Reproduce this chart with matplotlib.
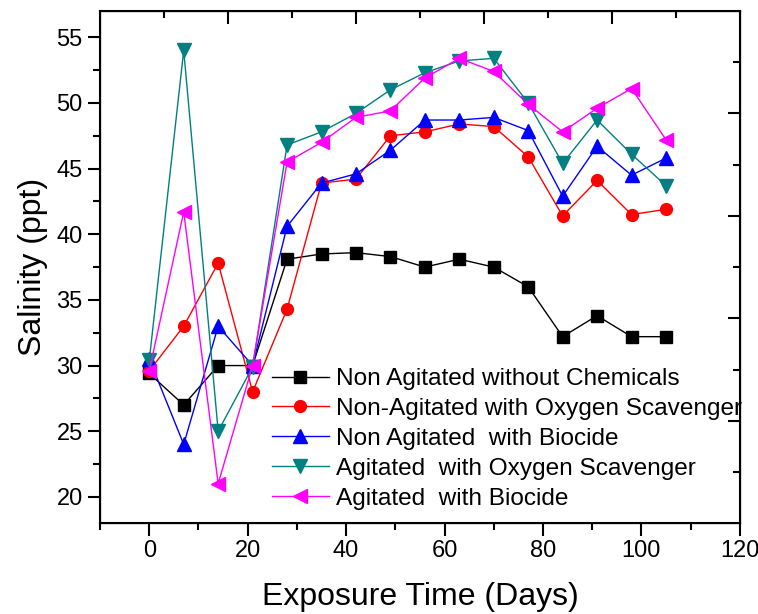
import matplotlib.pyplot as plt
from matplotlib.ticker import MultipleLocator, FixedLocator

plt.rcParams['font.family'] = ['Liberation Sans', 'DejaVu Sans']

days = [0, 7, 14, 21, 28, 35, 42, 49, 56, 63, 70, 77, 84, 91, 98, 105]

non_agit_none = [29.4, 27.0, 30.0, 30.0, 38.1, 38.5, 38.6, 38.3, 37.5, 38.1,
                 37.5, 36.0, 32.2, 33.8, 32.2, 32.2]
non_agit_oxy = [29.6, 33.0, 37.8, 28.0, 34.3, 43.9, 44.2, 47.5, 47.8, 48.4,
                48.2, 45.9, 41.4, 44.1, 41.5, 41.9]
non_agit_bio = [30.5, 24.0, 33.0, 30.0, 40.6, 43.9, 44.6, 46.4, 48.7, 48.7,
                48.9, 47.9, 42.9, 46.7, 44.5, 45.8]
agit_oxy = [30.4, 54.0, 25.0, 29.9, 46.8, 47.8, 49.2, 51.0, 52.3, 53.2,
            53.4, 50.0, 45.4, 48.7, 46.1, 43.7]
agit_bio = [29.6, 41.7, 21.0, 30.0, 45.5, 47.0, 48.9, 49.4, 51.9, 53.4,
            52.4, 49.9, 47.8, 49.6, 51.1, 47.2]

labels = ['Non Agitated without Chemicals',
          'Non-Agitated with Oxygen Scavenger',
          'Non Agitated  with Biocide',
          'Agitated  with Oxygen Scavenger',
          'Agitated  with Biocide']
series = [non_agit_none, non_agit_oxy, non_agit_bio, agit_oxy, agit_bio]
colors = ['black', 'red', 'blue', '#008080', 'magenta']
markers = ['s', 'o', '^', 'v', '<']
msizes = [8, 8.5, 10, 10, 10]

fig = plt.figure(figsize=(7.58, 6.14), dpi=100)
ax = fig.add_axes([0.132, 0.148, 0.844, 0.834])

for y, lab, c, m, ms in zip(series, labels, colors, markers, msizes):
    ax.plot(days, y, color=c, marker=m, markersize=ms, linewidth=1.0,
            label=lab, clip_on=False)

ax.set_xlim(-10, 120)
ax.set_ylim(18, 57)
ax.xaxis.set_major_locator(MultipleLocator(20))
ax.xaxis.set_minor_locator(MultipleLocator(10))
ax.yaxis.set_major_locator(MultipleLocator(5))
ax.yaxis.set_minor_locator(MultipleLocator(2.5))
ax.tick_params(which='major', direction='out', length=9, width=1.5, labelsize=17)
ax.tick_params(which='minor', direction='out', length=5, width=1.5)
for s in ax.spines.values():
    s.set_linewidth(1.5)

ax.set_xlabel('Exposure Time (Days)', fontsize=23, labelpad=14)
ax.set_ylabel('Salinity (ppt)', fontsize=23, labelpad=6)

# top and right axes have their own 0..10 scale, ticks only
top = ax.twiny()
top.set_xlim(0, 10)
top.xaxis.set_major_locator(FixedLocator([2, 4, 6, 8]))
top.xaxis.set_minor_locator(FixedLocator([1, 3, 5, 7, 9]))
top.tick_params(which='both', direction='in', labeltop=False, width=1.5)
top.tick_params(which='major', length=9)
top.tick_params(which='minor', length=5)

right = ax.twinx()
right.set_ylim(0, 10)
right.yaxis.set_major_locator(FixedLocator([2, 4, 6, 8]))
right.yaxis.set_minor_locator(FixedLocator([1, 3, 5, 7, 9]))
right.tick_params(which='both', direction='in', labelright=False, width=1.5)
right.tick_params(which='major', length=9)
right.tick_params(which='minor', length=5)

ax.legend(loc='lower left', bbox_to_anchor=(0.268, 0.026), frameon=False,
          fontsize=17.6, handlelength=2.35, handletextpad=0.3,
          labelspacing=0.32, borderpad=0, borderaxespad=0)

fig.savefig('out.png', dpi=100)
